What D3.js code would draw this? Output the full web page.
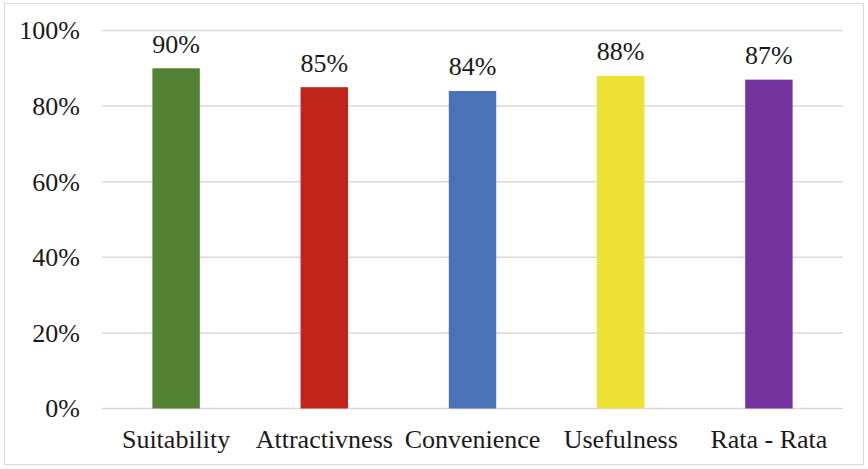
<!DOCTYPE html>
<html>
<head>
<meta charset="utf-8">
<script src="https://cdn.jsdelivr.net/npm/d3@7"></script>
<style>
  body { margin: 0; background: #fff; }
</style>
</head>
<body>
<div id="chart"></div>
<script>
var categories = ["Suitability", "Attractivness", "Convenience", "Usefulness", "Rata - Rata"];
var values = [90, 85, 84, 88, 87];
var colors = ["#548235", "#C0241A", "#4A72B8", "#EDE233", "#7332A0"];
var yTicks = [0, 20, 40, 60, 80, 100];

var w = 868, h = 469;
var mLeft = 102, mRight = 843, mTop = 30.5, mBottom = 408.5;
var serif = "'Liberation Serif', 'Times New Roman', serif";
var fs = "26px";

var svg = d3.select("#chart").append("svg")
    .attr("width", w)
    .attr("height", h);

// outer frame
svg.append("rect")
    .attr("x", 4.5).attr("y", 3.5)
    .attr("width", w - 9).attr("height", h - 8)
    .attr("fill", "none")
    .attr("stroke", "#d9d9d9")
    .attr("stroke-width", 1);

var x = d3.scaleBand().domain(categories).range([mLeft, mRight]).padding(0);
var y = d3.scaleLinear().domain([0, 100]).range([mBottom, mTop]);

// gridlines
svg.append("g").selectAll("line")
    .data(yTicks)
    .enter().append("line")
    .attr("x1", mLeft).attr("x2", mRight)
    .attr("y1", function(d) { return y(d); })
    .attr("y2", function(d) { return y(d); })
    .attr("stroke", "#d9d9d9")
    .attr("stroke-width", 1.5);

// y axis labels
var yAxis = d3.axisLeft(y).tickValues(yTicks).tickFormat(function(d) { return d + "%"; }).tickSize(0).tickPadding(0);
var ya = svg.append("g").attr("transform", "translate(80,0)").call(yAxis);
ya.select(".domain").remove();
ya.selectAll("text").style("font-size", fs).style("font-family", serif).style("fill", "#1a1a1a");

// bars
var bw = x.bandwidth() * 0.32;
svg.append("g").selectAll("rect")
    .data(values)
    .enter().append("rect")
    .attr("x", function(d, i) { return x(categories[i]) + x.bandwidth() / 2 - bw / 2; })
    .attr("y", function(d) { return y(d); })
    .attr("width", bw)
    .attr("height", function(d) { return y(0) - y(d); })
    .attr("fill", function(d, i) { return colors[i]; });

// value labels
svg.append("g").selectAll("text")
    .data(values)
    .enter().append("text")
    .attr("x", function(d, i) { return x(categories[i]) + x.bandwidth() / 2; })
    .attr("y", function(d) { return y(d) - 15.5; })
    .attr("text-anchor", "middle")
    .style("font-size", fs).style("font-family", serif).style("fill", "#1a1a1a")
    .text(function(d) { return d + "%"; });

// x axis labels
var xAxis = d3.axisBottom(x).tickSize(0).tickPadding(0);
var xa = svg.append("g").attr("transform", "translate(0," + mBottom + ")").call(xAxis);
xa.select(".domain").remove();
xa.selectAll("text").style("font-size", fs).style("font-family", serif).style("fill", "#1a1a1a")
    .attr("dy", null).attr("y", 39);
</script>
</body>
</html>
